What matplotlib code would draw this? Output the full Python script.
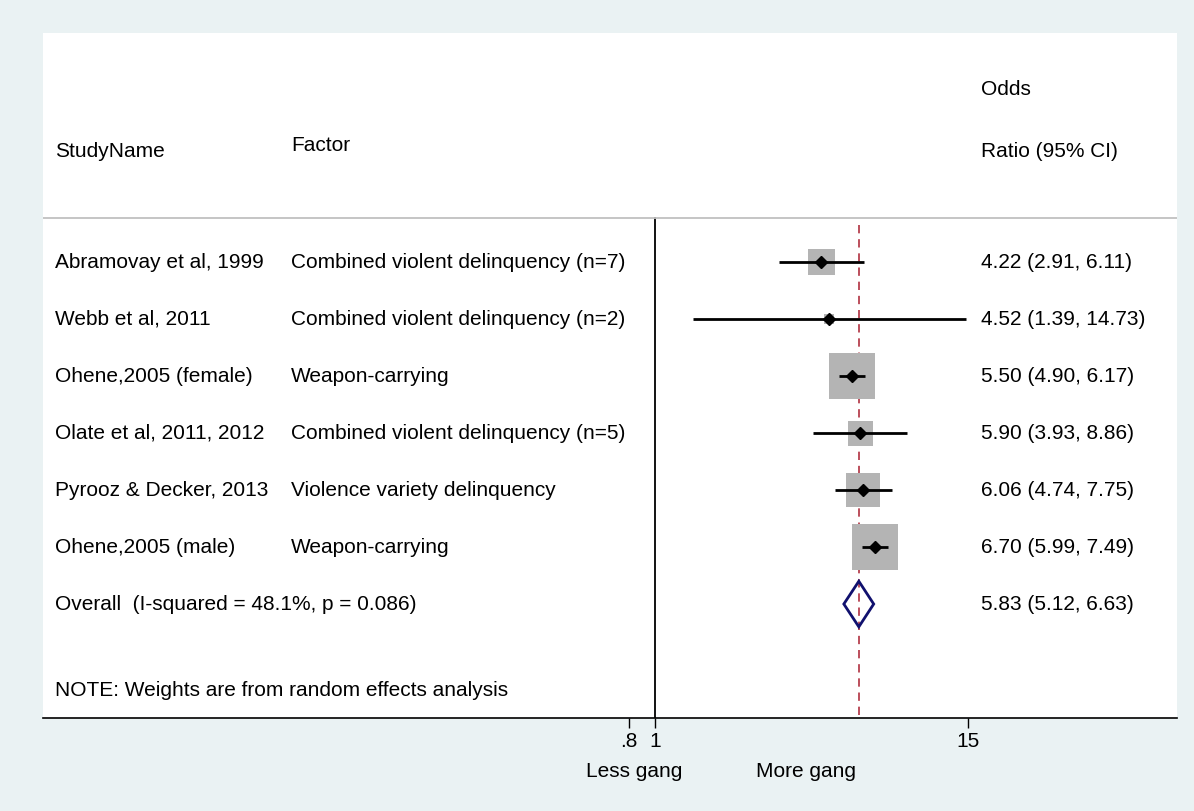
import matplotlib
matplotlib.use("Agg")
import matplotlib.pyplot as plt
from matplotlib.patches import Polygon
import numpy as np

plt.rcParams['font.family'] = ['Liberation Sans', 'DejaVu Sans']

# data
studies = ["Abramovay et al, 1999", "Webb et al, 2011", "Ohene,2005 (female)",
           "Olate et al, 2011, 2012", "Pyrooz & Decker, 2013", "Ohene,2005 (male)"]
factors = ["Combined violent delinquency (n=7)", "Combined violent delinquency (n=2)",
           "Weapon-carrying", "Combined violent delinquency (n=5)",
           "Violence variety delinquency", "Weapon-carrying"]
odds = [4.22, 4.52, 5.50, 5.90, 6.06, 6.70]
lower = [2.91, 1.39, 4.90, 3.93, 4.74, 5.99]
upper = [6.11, 14.73, 6.17, 8.86, 7.75, 7.49]
weights = [10.0, 1.5, 31.2, 9.2, 17.0, 31.2]   # % (random effects)

overall_label = "Overall  (I-squared = 48.1%, p = 0.086)"
overall_or, overall_lo, overall_hi = 5.83, 5.12, 6.63

xticks = [0.8, 1, 15]
xticklabels = [".8", "1", "15"]

BG = '#eaf2f3'
FS = 15

fig = plt.figure(figsize=(11.94, 8.11), dpi=100, facecolor=BG)
ax = fig.add_axes([43/1194, 1 - 718/811, 1134/1194, 685/811])
ax.set_facecolor('white')
ax.set_xscale('log')
ax.set_xlim(0.00502, 91.4)
ax.set_ylim(9.0, -3.02)

for s in ['top', 'left', 'right']:
    ax.spines[s].set_visible(False)
ax.spines['bottom'].set_linewidth(1.2)
ax.set_yticks([])
ax.set_xticks(xticks)
ax.set_xticklabels(xticklabels, fontsize=FS)
ax.minorticks_off()
ax.tick_params(axis='x', length=7, width=1, pad=3)

rows = np.arange(1, len(studies) + 1)
tx = ax.get_yaxis_transform()  # x in axes fraction, y in data

# header
ax.axhline(0.228, color='#c0c0c0', lw=1.3)
ax.text(0.0106, -0.947, "StudyName", transform=tx, fontsize=FS, va='center')
ax.text(0.2187, -1.05, "Factor", transform=tx, fontsize=FS, va='center')
ax.text(0.827, -2.035, "Odds", transform=tx, fontsize=FS, va='center')
ax.text(0.827, -0.947, "Ratio (95% CI)", transform=tx, fontsize=FS, va='center')

# reference lines
ax.plot([1, 1], [0.228, 9.0], color='black', lw=1.3, zorder=1)
ax.plot([overall_or, overall_or], [0.35, 9.0], color='#b03040', lw=1.2,
        dashes=(5, 3.5), zorder=1)

# study rows
side_px = 8.24 * np.sqrt(weights)
ax.scatter(odds, rows, s=(side_px * 0.72) ** 2, marker='s', color='#b4b4b4',
           edgecolors='none', zorder=2)
ax.hlines(rows, lower, upper, color='black', lw=2.0, zorder=3)
ax.plot(odds, rows, 'D', color='black', markersize=6, zorder=4)

for y, st, fa, o, lo, hi in zip(rows, studies, factors, odds, lower, upper):
    ax.text(0.0106, y, st, transform=tx, fontsize=FS, va='center')
    ax.text(0.2187, y, fa, transform=tx, fontsize=FS, va='center')
    ax.text(0.827, y, f"{o:.2f} ({lo:.2f}, {hi:.2f})", transform=tx, fontsize=FS, va='center')

# overall diamond
yo = len(studies) + 1
dia = Polygon([[overall_lo, yo], [overall_or, yo - 0.4], [overall_hi, yo], [overall_or, yo + 0.4]],
              closed=True, fill=False, edgecolor='#10106e', lw=2.0, zorder=4)
ax.add_patch(dia)
ax.text(0.0106, yo, overall_label, transform=tx, fontsize=FS, va='center')
ax.text(0.827, yo, f"{overall_or:.2f} ({overall_lo:.2f}, {overall_hi:.2f})",
        transform=tx, fontsize=FS, va='center')

ax.text(0.0106, 8.51, "NOTE: Weights are from random effects analysis",
        transform=tx, fontsize=FS, va='center')

# favours labels
ax.text(0.521, -0.0788, "Less gang", transform=ax.transAxes, fontsize=FS,
        ha='center', va='center')
ax.text(0.673, -0.0788, "More gang", transform=ax.transAxes, fontsize=FS,
        ha='center', va='center')

fig.savefig("out.png", dpi=100, facecolor=BG)
